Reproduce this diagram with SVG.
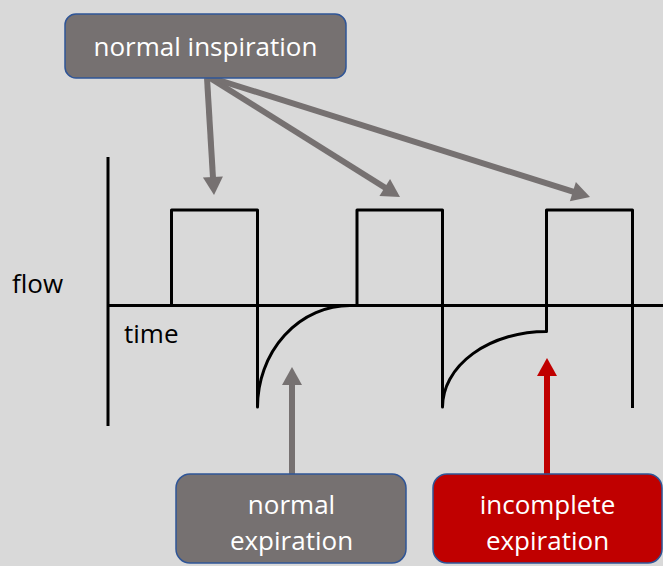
<svg xmlns="http://www.w3.org/2000/svg" width="663" height="566" viewBox="0 0 663 566">
  <style>
    .box-gray { fill: #767171; stroke: #2f5597; stroke-width: 1.5; }
    .box-red { fill: #c00000; stroke: #2f5597; stroke-width: 1.5; }
    .label { font-family: "Open Sans", "Liberation Sans", sans-serif; font-size: 26px; fill: #ffffff; text-anchor: middle; }
    .axis-label { font-family: "Open Sans", "Liberation Sans", sans-serif; font-size: 26px; fill: #000000; }
    .wave { fill: none; stroke: #000000; stroke-width: 3; stroke-linejoin: round; }
    .arrow-gray { stroke: #767171; stroke-width: 6; fill: none; }
    .arrow-red { stroke: #c00000; stroke-width: 6; fill: none; }
  </style>
  <defs>
    <marker id="head-gray" markerUnits="userSpaceOnUse" markerWidth="20" markerHeight="22" viewBox="0 0 18 22" refX="1" refY="11" orient="auto">
      <path d="M0,1 L18,11 L0,21 z" fill="#767171"/>
    </marker>
    <marker id="head-red" markerUnits="userSpaceOnUse" markerWidth="20" markerHeight="22" viewBox="0 0 18 22" refX="1" refY="11" orient="auto">
      <path d="M0,1 L18,11 L0,21 z" fill="#c00000"/>
    </marker>
  </defs>
  <rect x="0" y="0" width="663" height="566" fill="#d9d9d9"/>

  <g id="chart">
    <path class="wave" d="M108,157 V426"/>
    <path class="wave" d="M108,305.5 H663"/>
    <path class="wave" d="M171.5,305.5 V210 H257.5 V407 A92.5,101.5 0 0 1 350,305.5 H357 V210 H442.5 V407 A104,75.5 0 0 1 546.5,331.5 V210 H632.5 V408"/>
    <text class="axis-label" x="12" y="293">flow</text>
    <text class="axis-label" x="124" y="343">time</text>
  </g>

  <g id="connectors">
    <line class="arrow-gray" x1="207" y1="78" x2="213" y2="178" marker-end="url(#head-gray)"/>
    <line class="arrow-gray" x1="210" y1="78" x2="385.6" y2="188" marker-end="url(#head-gray)"/>
    <line class="arrow-gray" x1="212" y1="78" x2="573.8" y2="191.9" marker-end="url(#head-gray)"/>
    <line class="arrow-gray" x1="292" y1="474" x2="292" y2="384" marker-end="url(#head-gray)"/>
    <line class="arrow-red" x1="547" y1="474" x2="547" y2="375" marker-end="url(#head-red)"/>
  </g>

  <g id="normal-inspiration">
    <rect class="box-gray" x="65" y="14" width="281" height="64" rx="11"/>
    <text class="label" x="205.5" y="56">normal inspiration</text>
  </g>

  <g id="normal-expiration">
    <rect class="box-gray" x="176" y="474" width="230" height="89" rx="14"/>
    <text class="label" x="291.5" y="514">normal</text>
    <text class="label" x="291.5" y="550">expiration</text>
  </g>

  <g id="incomplete-expiration">
    <rect class="box-red" x="433" y="474" width="229" height="89" rx="14"/>
    <text class="label" x="547.5" y="514">incomplete</text>
    <text class="label" x="547.5" y="550">expiration</text>
  </g>
</svg>
